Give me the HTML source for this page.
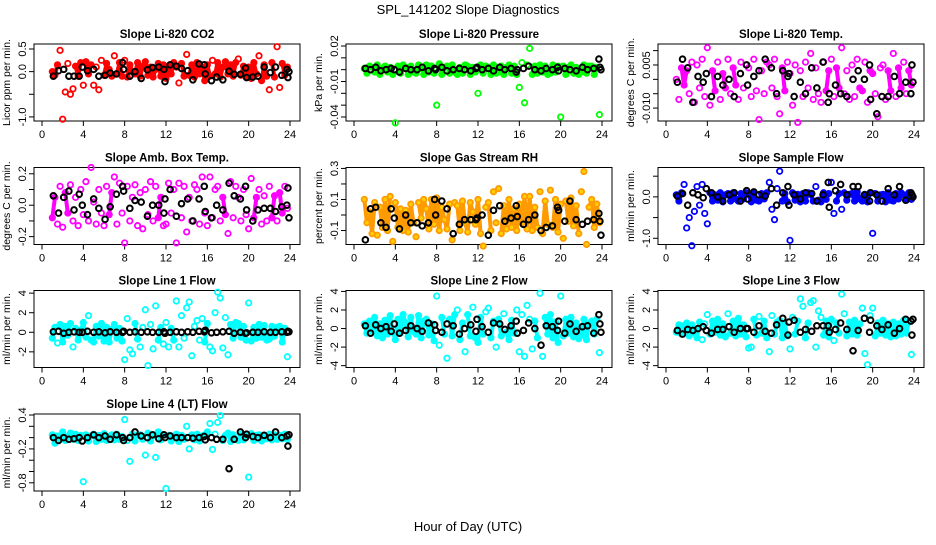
<!DOCTYPE html>
<html><head><meta charset="utf-8"><style>
body{margin:0;background:#fff}
svg text{font-family:"Liberation Sans",Arial,sans-serif}
</style></head><body>
<svg id="chart" width="936" height="540" viewBox="0 0 936 540" xmlns="http://www.w3.org/2000/svg">
<rect width="936" height="540" fill="#fff"/>
<text x="468" y="14" text-anchor="middle" font-size="13">SPL_141202  Slope Diagnostics</text>
<text x="468" y="531" text-anchor="middle" font-size="13">Hour of Day (UTC)</text>
</svg>
<script>
const hrsC=[1,1.25,1.5,1.75,2,2.25,2.5,2.75,3,3.25,3.5,3.75,4,4.25,4.5,4.75,5,5.25,5.5,5.75,6,6.25,6.5,6.75,7,7.25,7.5,7.75,8,8.25,8.5,8.75,9,9.25,9.5,9.75,10,10.25,10.5,10.75,11,11.25,11.5,11.75,12,12.25,12.5,12.75,13,13.25,13.5,13.75,14,14.25,14.5,14.75,15,15.25,15.5,15.75,16,16.25,16.5,16.75,17,17.25,17.5,17.75,18,18.25,18.5,18.75,19,19.25,19.5,19.75,20,20.25,20.5,20.75,21,21.25,21.5,21.75,22,22.25,22.5,22.75,23,23.25,23.5,23.75];
const hrsK=[1.1,1.6,2.1,2.6,3.1,3.6,3.9,4.4,5.0,5.5,6.1,6.6,7.2,7.8,7.9,8.5,9.0,9.6,10.2,10.7,11.3,11.8,11.9,12.4,13.0,13.5,14.1,14.6,15.2,15.7,15.8,16.4,16.9,17.5,18.1,18.6,19.2,19.7,19.8,20.4,20.9,21.5,22.1,22.6,23.2,23.7,23.8,23.9];
const xTicks=[0,4,8,12,16,20,24];

const co2C=[0.0,-0.08,0.15,0.47,-1.05,-0.45,0.18,-0.5,-0.38,0.12,-0.1,0.2,-0.3,0.22,-0.05,0.15,-0.3,0.1,-0.4,0.25,-0.08,0.18,0.05,-0.1,0.35,-0.05,0.2,-0.1,0.25,-0.12,0.15,0.0,-0.05,0.2,-0.1,0.12,0.22,-0.08,0.1,-0.12,0.05,0.18,-0.1,0.15,-0.15,0.12,-0.05,0.2,0.1,-0.25,0.18,-0.1,0.38,-0.08,0.15,-0.12,0.2,-0.05,0.1,-0.2,0.15,-0.1,0.25,-0.05,0.2,-0.12,0.1,0.22,-0.05,0.15,-0.1,0.2,0.28,-0.08,0.12,-0.12,0.1,-0.15,0.2,-0.05,0.35,-0.2,0.15,-0.1,-0.4,0.2,-0.12,0.55,-0.35,0.18,-0.08,0.1];
const co2K=[-0.1,0.02,0.05,-0.1,-0.1,-0.1,0.1,0.02,0.05,-0.1,-0.08,-0.03,-0.05,0.2,0.05,-0.1,0.0,-0.15,0.04,0.09,0.1,0.05,-0.22,0.15,0.12,0.07,0.02,-0.18,0.17,0.15,-0.05,-0.2,-0.12,-0.18,0.01,-0.06,-0.06,0.08,-0.13,-0.12,-0.1,0.1,-0.02,0.1,-0.08,0.05,-0.13,0.0];
const presC=[0.001,-0.003,0.003,0.002,-0.002,0.004,-0.004,0.001,0.003,-0.002,0.002,-0.004,-0.045,0.003,-0.003,0.004,0.002,-0.004,0.003,-0.002,-0.003,0.004,0.001,-0.004,0.004,-0.002,0.003,-0.003,-0.03,0.005,-0.004,0.002,0.003,-0.003,0.004,-0.002,-0.004,0.002,-0.003,0.004,0.003,-0.004,0.002,-0.002,-0.02,0.004,-0.003,0.003,0.002,-0.004,0.004,-0.003,-0.002,0.003,-0.004,0.002,0.004,-0.003,0.003,-0.004,-0.015,0.006,-0.028,0.004,0.018,-0.004,0.003,-0.003,0.004,-0.002,0.003,-0.004,-0.003,0.004,-0.002,0.003,-0.04,0.003,-0.004,0.002,0.004,-0.003,0.002,-0.004,-0.002,0.004,-0.003,0.003,0.003,-0.004,0.002,-0.038];
const presK=[0.001,0.0,0.002,-0.001,0.0,0.001,0.0,-0.002,0.001,0.0,0.0,0.002,-0.001,0.001,0.0,0.002,-0.001,0.0,0.001,0.0,-0.001,0.001,0.002,0.0,0.001,-0.001,0.002,0.0,0.001,-0.002,0.0,0.001,0.003,0.0,-0.001,0.001,0.0,0.002,-0.001,0.001,0.0,-0.001,0.002,0.0,0.001,0.009,0.002,0.0];
const tempC=[0.0,-0.007,0.004,-0.002,0.003,-0.005,0.006,-0.008,0.005,-0.003,0.007,-0.006,0.011,-0.009,0.003,-0.004,0.006,-0.007,0.002,-0.003,0.007,-0.005,0.004,-0.002,-0.007,0.006,-0.003,0.005,0.004,-0.006,0.007,-0.004,-0.014,0.003,-0.005,0.006,0.005,-0.003,0.007,-0.006,-0.012,0.004,-0.004,0.006,0.002,-0.009,0.005,-0.015,0.003,-0.006,0.006,-0.003,0.009,-0.007,0.004,-0.005,-0.008,0.006,-0.004,0.003,0.007,-0.006,0.004,-0.003,0.011,-0.005,0.003,-0.007,0.005,-0.006,0.007,-0.003,-0.004,0.006,-0.008,0.003,0.002,-0.005,-0.013,0.004,0.005,-0.007,0.003,-0.004,0.009,-0.006,0.004,-0.003,0.006,-0.005,0.003,-0.002];
const tempK=[-0.001,0.007,0.004,-0.008,0.001,-0.001,0.002,-0.006,0.001,-0.002,0.0,-0.006,0.002,0.005,-0.002,0.001,0.003,0.007,0.004,-0.005,0.003,0.001,0.002,-0.006,-0.001,-0.005,0.004,-0.003,0.006,-0.008,-0.005,-0.002,-0.005,-0.006,0.0,0.003,0.0,0.005,-0.007,-0.012,-0.006,-0.006,0.001,-0.005,-0.001,-0.005,0.005,-0.001];
const ambC=[-0.08,0.05,-0.12,0.12,-0.14,0.08,-0.05,0.13,-0.1,0.05,-0.13,0.1,-0.06,0.15,-0.1,0.24,0.02,-0.12,0.1,-0.05,-0.13,0.12,-0.06,0.08,0.18,-0.12,0.14,-0.05,-0.24,0.12,-0.1,0.05,0.13,-0.13,0.08,-0.15,0.1,-0.06,0.15,-0.1,0.12,-0.08,0.05,-0.13,-0.12,0.14,-0.05,0.1,-0.24,0.14,-0.08,0.12,-0.17,0.05,-0.1,0.13,0.1,-0.12,0.18,-0.05,-0.13,0.18,-0.08,0.1,0.12,-0.1,0.05,-0.06,-0.18,0.15,-0.08,0.12,0.05,-0.1,0.1,-0.06,-0.15,0.17,-0.08,0.05,0.1,-0.12,0.06,-0.1,0.12,-0.08,0.06,-0.1,0.08,-0.05,0.12,-0.02];
const ambK=[0.06,-0.05,0.05,0.09,-0.03,0.07,0.0,-0.06,0.04,-0.02,-0.09,-0.01,0.07,0.12,0.09,-0.02,0.03,0.02,-0.07,0.0,0.0,-0.05,0.04,0.1,-0.07,0.01,0.04,-0.1,0.04,0.12,-0.04,-0.08,0.0,-0.03,0.14,0.06,0.04,0.12,-0.03,-0.1,-0.03,-0.02,-0.02,-0.04,-0.01,0.0,0.11,-0.08];
const rhC=[0.1,-0.05,0.02,-0.12,0.08,-0.13,0.05,-0.08,0.1,-0.1,0.12,-0.17,0.08,-0.08,0.04,-0.1,0.03,-0.11,0.07,-0.05,-0.14,0.08,-0.02,0.1,0.04,-0.09,0.1,-0.06,0.11,-0.1,0.05,-0.03,-0.09,0.07,-0.16,0.08,0.06,-0.1,0.09,-0.05,-0.11,0.08,0.02,-0.06,0.1,-0.12,-0.2,0.05,0.08,-0.1,0.15,-0.05,0.17,-0.12,0.06,-0.09,0.1,-0.08,0.04,-0.1,0.07,-0.05,0.12,-0.09,0.12,-0.1,0.05,-0.08,0.15,-0.12,0.09,-0.06,0.16,-0.08,0.1,-0.11,0.07,-0.15,0.09,-0.04,0.11,-0.07,0.06,-0.12,0.15,0.28,-0.19,0.05,0.1,-0.08,0.07,-0.05];
const rhK=[-0.16,0.04,0.05,-0.05,-0.08,0.04,-0.02,-0.09,0.0,-0.05,-0.05,-0.07,-0.05,0.1,0.0,0.09,0.04,-0.12,-0.06,-0.03,-0.03,-0.03,-0.02,0.0,-0.13,0.03,0.06,-0.04,-0.02,0.06,-0.01,-0.06,-0.03,0.0,-0.1,-0.08,-0.07,0.05,0.03,-0.04,0.09,-0.03,-0.06,-0.04,-0.03,0.01,-0.04,-0.13];
const sfC=[0.05,-0.1,0.1,0.3,-0.75,-0.5,-1.18,-0.35,0.25,-0.2,0.3,-0.4,-0.65,0.1,-0.1,0.05,-0.08,0.1,-0.12,0.05,0.08,-0.1,0.1,-0.05,-0.1,0.08,-0.05,0.1,0.06,-0.12,0.1,-0.08,-0.1,0.08,-0.05,0.1,0.35,-0.3,-0.55,0.2,0.62,-0.1,0.08,-0.12,-1.05,0.1,-0.08,0.06,-0.12,0.08,-0.1,0.1,0.06,-0.1,0.25,-0.08,-0.12,0.1,-0.06,0.08,0.35,-0.4,-0.1,0.08,-0.3,0.1,-0.08,0.06,0.08,-0.1,0.12,-0.05,-0.1,0.06,-0.12,0.1,-0.88,0.08,-0.1,0.05,0.06,-0.12,0.1,-0.08,-0.1,0.08,-0.05,0.1,0.05,-0.08,0.1,-0.06];
const sfK=[0.02,0.08,-0.2,0.1,0.05,-0.02,0.2,0.1,0.0,-0.1,0.05,0.1,-0.1,0.15,-0.05,0.12,0.05,0.02,0.2,-0.2,0.1,0.25,-0.2,0.05,-0.05,0.1,0.08,-0.1,0.05,0.35,-0.25,0.15,0.3,0.05,0.25,0.25,0.05,-0.1,0.1,0.05,-0.1,0.2,0.05,0.25,-0.08,0.1,0.05,0.0];
const l1C=[-0.6,0.5,-1.1,0.8,-1.0,0.6,-0.3,0.9,-1.5,0.4,-0.8,0.2,1.0,-0.5,1.7,-0.8,-1.0,0.6,-0.4,0.9,-0.9,0.5,-1.0,0.3,0.8,-0.6,0.4,-0.9,-2.8,1.4,-1.8,-2.2,0.9,-0.7,-1.5,0.5,2.3,-3.4,0.8,-1.7,2.7,-0.8,0.5,-1.2,1.0,-1.5,0.4,-0.8,3.2,-1.5,1.7,-0.6,2.5,3.1,-2.4,0.6,1.2,-0.8,1.4,-1.0,0.9,-1.5,-1.9,2.0,4.1,3.5,-1.6,1.5,-2.3,0.8,-0.6,1.0,0.9,-0.5,0.6,-0.8,3.0,-0.9,0.5,-0.6,0.8,-0.5,0.7,-0.8,-0.7,0.6,-0.4,0.5,0.6,-1.0,0.4,-2.5];
const l1K=[0.05,0.1,-0.1,0.0,0.05,0.0,0.0,0.1,0.0,0.05,-0.05,0.05,0.0,0.0,0.1,0.0,0.05,0.0,0.05,0.0,0.0,0.05,-0.1,0.0,0.05,0.0,0.05,0.0,0.1,0.05,0.2,-0.05,0.0,0.05,0.1,-0.1,0.0,-0.1,-0.05,0.0,0.0,0.05,0.0,0.0,0.05,0.0,0.1,0.05];
const l2C=[0.5,-0.5,0.8,-0.3,1.2,-0.8,0.5,-1.0,0.9,-0.6,1.4,-0.4,-1.2,1.0,-0.5,1.5,0.6,-0.9,1.2,-0.3,-0.6,1.4,-1.0,0.8,1.0,-0.7,0.5,-1.3,3.5,-1.8,1.2,-0.6,-3.2,1.0,-0.8,1.5,2.0,-1.2,0.6,-2.5,1.5,-0.8,2.3,-1.0,-1.5,1.2,-0.6,1.8,2.2,-1.0,0.8,-2.0,1.0,-0.8,1.6,-0.4,-1.2,0.9,-0.5,2.0,-2.5,1.5,-3.0,2.5,1.0,-2.2,0.8,-1.0,3.8,-3.0,1.2,-0.6,1.5,-1.0,0.7,-1.5,3.5,-0.8,1.0,-0.5,1.2,-0.9,0.6,-1.1,-0.7,1.0,-1.2,0.5,0.8,-0.6,1.0,-2.6];
const l2K=[0.3,-0.5,0.4,0.0,0.2,-0.3,0.5,-0.5,-0.2,0.3,0.0,-0.3,0.6,0.4,-0.2,-0.4,0.5,0.3,-0.6,0.0,0.4,-0.3,1.0,0.2,-0.4,0.6,0.5,-0.1,0.3,0.8,-0.5,-0.2,0.6,0.0,-1.8,0.3,0.2,-0.2,0.8,-0.5,0.5,-0.3,0.2,0.3,-0.5,1.5,0.5,-0.4];
const l3C=[-0.4,0.4,-0.6,0.3,0.6,-0.8,0.4,-0.5,-1.0,0.7,-1.2,0.5,1.5,-0.6,0.8,-0.4,1.0,-0.7,0.5,-0.9,1.6,-0.5,0.8,-0.8,1.1,-0.6,0.4,-0.9,-2.1,-2.0,1.0,-0.7,1.3,-0.5,0.8,-1.0,-2.5,1.4,-0.6,0.7,0.9,-1.0,0.5,-0.8,-2.2,1.2,-0.6,0.8,3.2,2.4,-1.0,0.6,2.8,3.0,-2.0,1.9,1.2,-0.7,0.8,-0.9,1.0,-1.3,0.6,-0.5,3.7,1.6,-0.8,0.7,-0.6,0.9,-0.7,0.5,2.2,-2.7,-3.9,1.4,2.2,-0.8,0.6,-0.5,0.9,-0.7,0.5,-0.9,0.7,-0.8,0.5,-0.6,0.9,-0.5,0.7,-2.8];
const l3K=[-0.2,-0.6,-0.1,-0.2,0.0,0.2,-0.2,-0.5,-0.1,-0.1,0.2,-0.4,0.0,0.0,0.0,-0.4,0.3,-0.3,-0.5,0.4,1.1,-0.7,0.7,0.9,-0.4,-0.1,-0.3,0.3,0.3,0.3,-0.4,-0.1,0.6,-0.1,-2.4,-0.2,1.1,-0.4,0.9,0.3,-0.1,0.4,-0.5,0.0,1.0,0.8,-0.7,1.0];
const l4C=[0.05,-0.1,0.03,-0.02,0.1,-0.05,0.02,0.08,-0.03,0.06,-0.05,0.04,-0.78,0.05,-0.06,0.03,0.06,-0.07,0.04,-0.03,0.07,-0.05,0.02,0.05,-0.04,0.06,-0.03,0.02,0.32,-0.05,-0.42,0.06,-0.06,0.04,0.05,-0.03,-0.31,0.08,-0.06,0.03,-0.35,0.1,-0.04,0.05,-0.9,0.04,-0.06,0.03,0.06,-0.07,0.04,-0.03,0.2,-0.2,0.05,-0.04,0.06,-0.06,0.03,0.05,0.1,0.25,-0.21,0.06,0.27,0.39,-0.05,0.04,0.08,-0.07,0.05,-0.03,-0.05,0.06,-0.04,0.03,-0.7,0.07,-0.05,0.04,0.05,-0.06,0.03,-0.02,0.06,-0.04,0.05,-0.03,0.04,-0.02,0.06,-0.03];
const l4K=[0.0,-0.05,0.0,-0.03,-0.02,0.0,-0.06,0.0,0.05,0.0,0.03,-0.03,0.05,0.0,-0.05,0.0,0.1,0.03,0.0,0.05,-0.02,0.05,0.0,0.03,0.0,0.0,0.0,-0.01,0.0,0.02,-0.04,0.0,-0.03,-0.03,-0.55,-0.03,0.1,0.0,0.06,0.02,0.0,0.04,0.0,0.1,0.0,0.03,-0.15,0.05];

const panels=[
 {name:'co2',title:'Slope Li-820 CO2',yl:'Licor ppm per min.',col:0,row:0,ymin:-1.09,ymax:0.61,ticks:[-1,-0.5,0,0.5],labs:['-1.0','','0.0','0.5'],c:'#ff0000',band:10,C:co2C,K:co2K},
 {name:'pressure',title:'Slope Li-820 Pressure',yl:'kPa per min.',col:1,row:0,ymin:-0.0434,ymax:0.0217,ticks:[-0.04,-0.03,-0.02,-0.01,0,0.01,0.02],labs:['-0.04','','','-0.01','','','0.02'],c:'#00ff00',band:7,C:presC,K:presK},
 {name:'li820-temp',title:'Slope Li-820 Temp.',yl:'degrees C per min.',col:2,row:0,ymin:-0.0145,ymax:0.0123,ticks:[-0.01,-0.005,0,0.005,0.01],labs:['-0.010','','','0.005',''],c:'#ff00ff',band:14,C:tempC,K:tempK},
 {name:'amb-box-temp',title:'Slope Amb. Box Temp.',yl:'degrees C per min.',col:0,row:1,ymin:-0.25,ymax:0.24,ticks:[-0.2,-0.1,0,0.1,0.2],labs:['-0.2','','0.0','','0.2'],c:'#ff00ff',band:14,C:ambC,K:ambK},
 {name:'gas-stream-rh',title:'Slope Gas Stream RH',yl:'percent per min.',col:1,row:1,ymin:-0.19,ymax:0.306,ticks:[-0.1,0,0.1,0.2,0.3],labs:['-0.1','','0.1','','0.3'],c:'#ff9a00',fill:'#ffd000',band:20,C:rhC,K:rhK},
 {name:'sample-flow',title:'Slope Sample Flow',yl:'ml/min per min.',col:2,row:1,ymin:-1.15,ymax:0.71,ticks:[-1,-0.5,0,0.5],labs:['-1.0','','0.0',''],c:'#0000ff',band:9,C:sfC,K:sfK},
 {name:'line1-flow',title:'Slope Line 1 Flow',yl:'ml/min per min.',col:0,row:2,ymin:-3.6,ymax:4.27,ticks:[-2,0,2,4],labs:['-2','0','2','4'],c:'#00ffff',band:10,C:l1C,K:l1K},
 {name:'line2-flow',title:'Slope Line 2 Flow',yl:'ml/min per min.',col:1,row:2,ymin:-4.2,ymax:4.1,ticks:[-4,-2,0,2,4],labs:['-4','-2','0','2','4'],c:'#00ffff',band:14,C:l2C,K:l2K},
 {name:'line3-flow',title:'Slope Line 3 Flow',yl:'ml/min per min.',col:2,row:2,ymin:-4.2,ymax:4.1,ticks:[-4,-2,0,2,4],labs:['-4','-2','0','2','4'],c:'#00ffff',band:11,C:l3C,K:l3K},
 {name:'line4-flow',title:'Slope Line 4 (LT) Flow',yl:'ml/min per min.',col:0,row:3,ymin:-0.945,ymax:0.418,ticks:[-0.8,-0.6,-0.4,-0.2,0,0.2,0.4],labs:['-0.8','','','-0.2','','','0.4'],c:'#00ffff',band:7,C:l4C,K:l4K}
];
const NS='http://www.w3.org/2000/svg';
const svg=document.getElementById('chart');
const lefts=[34,346,658], tops=[44,167.5,290.5,414], W=266, H=77;
function mk(tag,attrs,parent){const e=document.createElementNS(NS,tag);for(const k in attrs)e.setAttribute(k,attrs[k]);(parent||svg).appendChild(e);return e;}
panels.forEach(p=>{
  const L=lefts[p.col],T=tops[p.row],B=T+H;
  const g=mk('g',{});
  
  
  const xs=h=>L+8+h*(248/24);
  const ys=v=>T+(p.ymax-v)/(p.ymax-p.ymin)*H;
  const t=mk('text',{x:L+W/2,y:T-6,'text-anchor':'middle','font-size':'11.5','font-weight':'bold'},g);
  t.textContent=p.title;
  
  
  const yt=mk('text',{transform:`translate(${L-24},${T+H/2}) rotate(-90)`,'text-anchor':'middle','font-size':'10.5'},g);
  yt.textContent=p.yl;
  
  
  const box=mk('rect',{x:L,y:T,width:W,height:H,fill:'none',stroke:'#000','stroke-width':1},g);
  
  
  xTicks.forEach(h=>{
    mk('line',{x1:xs(h),x2:xs(h),y1:B,y2:B+5,stroke:'#000'},g);
    const lt=mk('text',{x:xs(h),y:B+17,'text-anchor':'middle','font-size':'11'},g);
    lt.textContent=h;
    
    
  });
  p.ticks.forEach((v,i)=>{
    mk('line',{x1:L-5,x2:L,y1:ys(v),y2:ys(v),stroke:'#000'},g);
    if(p.labs[i]){
      const lt=mk('text',{transform:`translate(${L-8},${ys(v)}) rotate(-90)`,'text-anchor':'middle','font-size':'11'},g);
      lt.textContent=p.labs[i];
      
      
    }
  });
  const y0c=ys(0);
  for(let i=1;i<p.C.length;i++){
    const ya=ys(p.C[i-1]),yb=ys(p.C[i]);
    if(Math.abs(ya-y0c)<=p.band && Math.abs(yb-y0c)<=p.band){
      const s=mk('line',{x1:xs(hrsC[i-1]),y1:ya,x2:xs(hrsC[i]),y2:yb,stroke:p.c,'stroke-width':4,'stroke-linecap':'round'},g);
      
      
    }
  }
  p.C.forEach((v,i)=>{
    const c=mk('circle',{cx:xs(hrsC[i]),cy:ys(v),r:2.7,fill:p.fill||'none',stroke:p.c,'stroke-width':1.8},g);
    
    
  });
  p.K.forEach((v,i)=>{
    const c=mk('circle',{cx:xs(hrsK[i]),cy:ys(v),r:2.8,fill:'none',stroke:'#000','stroke-width':2},g);
    
    
  });
});
</script>
</body></html>
